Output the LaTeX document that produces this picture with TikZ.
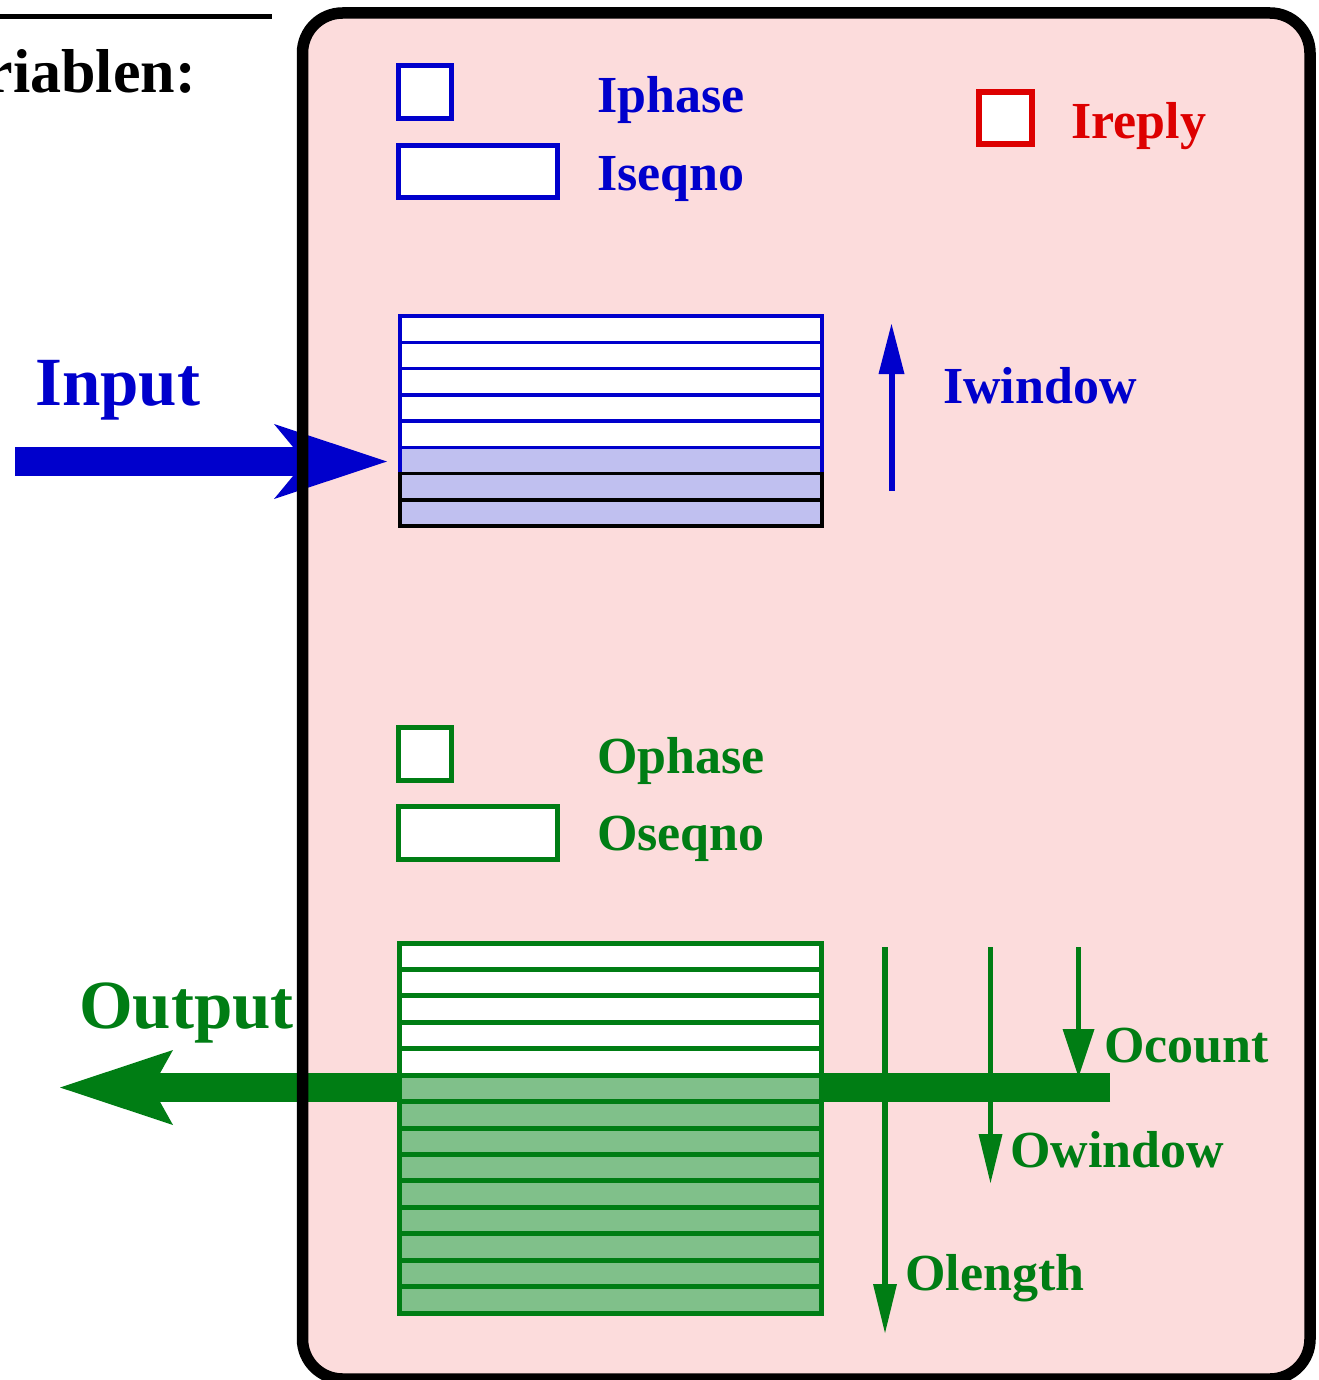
\documentclass[tikz,border=0pt]{standalone}
\usepackage{fontspec}
\setmainfont{Liberation Serif}
\usetikzlibrary{arrows.meta}
\definecolor{iblue}{RGB}{0,0,204}
\definecolor{ilight}{RGB}{192,192,240}
\definecolor{ired}{RGB}{221,0,0}
\definecolor{ogreen}{RGB}{0,125,20}
\definecolor{olight}{RGB}{128,192,138}
\definecolor{pinkbg}{RGB}{252,220,220}
\begin{document}
\begin{tikzpicture}[x=1pt,y=-1pt,
  lbl/.style={inner sep=0pt, anchor=base west, font=\fontsize{52}{60}\selectfont\bfseries},
  big/.style={inner sep=0pt, anchor=base west, font=\fontsize{69}{80}\selectfont\bfseries},
  varbox/.style={draw, fill=white, line width=5pt, inner sep=0pt},
  bigarrow/.style={line width=29pt},
  smallarrow/.style={line width=5.5pt}
]
\useasboundingbox (0,0) rectangle (1318,1380);
\clip (0,0) rectangle (1318,1380);

% background of the module
\fill[pinkbg, rounded corners=40pt] (302.5,13) rectangle (1310,1379);

% title fragment
\draw[line width=5pt] (0,17) -- (272,17);
\node[inner sep=0pt, anchor=base east, font=\fontsize{62}{70}\selectfont\bfseries] (title) at (196,93) {Variablen:};

% input arrow
\coordinate (inS) at (15,461.5);
\coordinate (inT) at (387,461.5);
\draw[bigarrow, iblue, -{Stealth[length=113pt,width=75pt,inset=31pt,line width=0pt]}] (inS) -- (inT);
\node[big, text=iblue] (input) at (35,405) {Input};

% output arrow (drawn under the output buffer)
\coordinate (outS) at (1110,1087.5);
\coordinate (outT) at (60,1087.5);
\draw[bigarrow, ogreen, -{Stealth[length=113pt,width=75pt,inset=21pt,line width=0pt]}] (outS) -- (outT);
\node[big, text=ogreen] (output) at (79,1028) {Output};

% input variables
\node[varbox, draw=iblue, minimum width=53pt, minimum height=53pt] (iphase) at (425,92) {};
\node[varbox, draw=iblue, minimum width=159pt, minimum height=52pt] (iseqno) at (478,171.5) {};
\node[lbl, text=iblue] (iphaseL) at (597,113) {Iphase};
\node[lbl, text=iblue] (iseqnoL) at (597,191) {Iseqno};

\node[varbox, draw=ired, line width=5.5pt, minimum width=53pt, minimum height=52pt] (ireply) at (1005.5,118) {};
\node[lbl, text=ired] (ireplyL) at (1071,139) {Ireply};

% input window buffer
\foreach \i in {0,...,4} {
  \draw[iblue, line width=3.5pt, fill=white] (400,316+\i*26.25) rectangle (822,316+\i*26.25+26.25);
}
\draw[iblue, line width=3.5pt, fill=ilight] (400,316+5*26.25) rectangle (822,316+6*26.25);
\foreach \i in {6,7} {
  \draw[black, line width=3.5pt, fill=ilight] (400,316+\i*26.25) rectangle (822,316+\i*26.25+26.25);
}
\coordinate (iwS) at (891.5,491);
\coordinate (iwT) at (891.5,324);
\draw[smallarrow, iblue, line width=6pt, -{Triangle[length=50pt,width=26pt,line width=0pt]}] (iwS) -- (iwT);
\node[lbl, text=iblue] (iwindowL) at (943,403) {Iwindow};

% output variables
\node[varbox, draw=ogreen, minimum width=53pt, minimum height=53pt] (ophase) at (425,754) {};
\node[varbox, draw=ogreen, minimum width=159pt, minimum height=53pt] (oseqno) at (478,833) {};
\node[lbl, text=ogreen] (ophaseL) at (597,773) {Ophase};
\node[lbl, text=ogreen] (oseqnoL) at (597,850) {Oseqno};

% output window buffer
\foreach \i in {0,...,4} {
  \draw[ogreen, line width=5pt, fill=white] (399,943+\i*26.43) rectangle (821,943+\i*26.43+26.43);
}
\foreach \i in {5,...,13} {
  \draw[ogreen, line width=5pt, fill=olight] (399,943+\i*26.43) rectangle (821,943+\i*26.43+26.43);
}

% output pointers
\coordinate (olS) at (885,947);
\coordinate (olT) at (885,1333);
\coordinate (owS) at (990.5,947);
\coordinate (owT) at (990.5,1183);
\coordinate (ocS) at (1078.5,947);
\coordinate (ocT) at (1078.5,1077);
\draw[smallarrow, ogreen, -{Triangle[length=49pt,width=24pt,line width=0pt]}] (olS) -- (olT);
\draw[smallarrow, ogreen, -{Triangle[length=49pt,width=24pt,line width=0pt]}] (owS) -- (owT);
\draw[smallarrow, ogreen, -{Triangle[length=48pt,width=32pt,line width=0pt]}] (ocS) -- (ocT);
\node[lbl, text=ogreen] (ocountL) at (1104,1062) {Ocount};
\node[lbl, text=ogreen] (owindowL) at (1010,1167) {Owindow};
\node[lbl, text=ogreen] (olengthL) at (905,1290) {Olength};

% module border
\draw[line width=11.5pt, rounded corners=40pt] (302.5,13) rectangle (1310,1379);
\end{tikzpicture}
\end{document}
